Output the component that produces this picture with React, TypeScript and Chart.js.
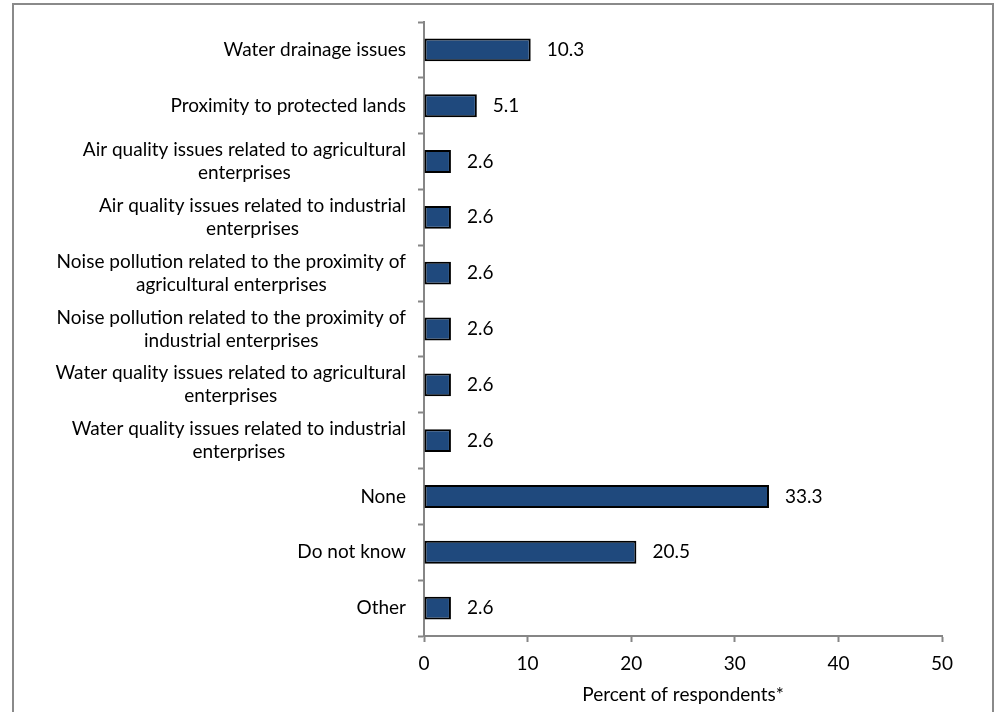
import React, { useEffect, useRef } from "react";
import { Chart, registerables } from "chart.js";

Chart.register(...registerables);

const categories: string[][] = [
  ["Water drainage issues"],
  ["Proximity to protected lands"],
  ["Air quality issues related to agricultural", "enterprises"],
  ["Air quality issues related to industrial", "enterprises"],
  ["Noise pollution related to the proximity of", "agricultural enterprises"],
  ["Noise pollution related to the proximity of", "industrial enterprises"],
  ["Water quality issues related to agricultural", "enterprises"],
  ["Water quality issues related to industrial", "enterprises"],
  ["None"],
  ["Do not know"],
  ["Other"],
];
const values: number[] = [10.3, 5.1, 2.6, 2.6, 2.6, 2.6, 2.6, 2.6, 33.3, 20.5, 2.6];
const valueLabels: string[] = ["10.3", "5.1", "2.6", "2.6", "2.6", "2.6", "2.6", "2.6", "33.3", "20.5", "2.6"];
const xTitle = "Percent of respondents*";

const FONT_FAMILY = "Lato, 'Noto Sans', sans-serif";
const FONT_SIZE = 19;
const AXIS_COLOR = "#868686";

export default function App() {
  const ref = useRef<HTMLCanvasElement | null>(null);

  useEffect(() => {
    const canvas = ref.current;
    if (!canvas) return;

    const labelPlugin = {
      id: "customLabels",
      afterDraw(chart: any) {
        const ctx = chart.ctx;
        const yScale = chart.scales.y;
        const xScale = chart.scales.x;
        ctx.save();
        ctx.font = `${FONT_SIZE}px ${FONT_FAMILY}`;
        ctx.fillStyle = "#000";
        ctx.textBaseline = "middle";
        const lineH = 23;
        categories.forEach((lines, i) => {
          const y = yScale.getPixelForValue(i);
          let maxW = 0;
          lines.forEach((l) => {
            maxW = Math.max(maxW, ctx.measureText(l).width);
          });
          const rightEdge = yScale.right - 18;
          const cx = rightEdge - maxW / 2;
          ctx.textAlign = "center";
          const startY = y - ((lines.length - 1) * lineH) / 2;
          lines.forEach((l, k) => {
            ctx.fillText(l, cx, startY + k * lineH);
          });
        });
        ctx.textAlign = "left";
        values.forEach((v, i) => {
          const x = xScale.getPixelForValue(v) + 16;
          const y = yScale.getPixelForValue(i);
          ctx.fillText(valueLabels[i], x, y);
        });
        ctx.restore();
      },
    };

    const chart = new Chart(canvas, {
      type: "bar",
      data: {
        labels: categories.map((c) => c.join(" ")),
        datasets: [
          {
            data: values,
            backgroundColor: "#1F497D",
            borderColor: "#000000",
            borderWidth: 2,
            borderSkipped: false,
            barPercentage: 0.41,
            categoryPercentage: 1,
          },
        ],
      },
      options: {
        indexAxis: "y",
        responsive: false,
        animation: false,
        events: [],
        layout: { padding: { top: 22, right: 57, left: 0, bottom: 0 } },
        plugins: {
          legend: { display: false },
          tooltip: { enabled: false },
          title: { display: false },
        },
        scales: {
          x: {
            min: 0,
            max: 50,
            ticks: {
              stepSize: 10,
              color: "#000",
              padding: 10,
              font: { family: FONT_FAMILY, size: FONT_SIZE },
            },
            grid: {
              drawOnChartArea: false,
              drawTicks: true,
              tickLength: 6,
              tickColor: AXIS_COLOR,
              tickWidth: 2,
            },
            border: { color: AXIS_COLOR, width: 2 },
            title: {
              display: true,
              text: xTitle,
              color: "#000",
              font: { family: FONT_FAMILY, size: FONT_SIZE },
              padding: { top: 0, bottom: 6 },
            },
            afterFit(scale: any) {
              scale.height = 76;
            },
          },
          y: {
            ticks: {
              callback: () => "",
              font: { family: FONT_FAMILY, size: FONT_SIZE },
            },
            grid: {
              drawOnChartArea: false,
              drawTicks: true,
              tickLength: 6,
              offset: true,
              tickColor: AXIS_COLOR,
              tickWidth: 2,
            },
            border: { color: AXIS_COLOR, width: 2 },
            afterFit(scale: any) {
              scale.width = 424;
            },
          },
        },
      },
      plugins: [labelPlugin],
    } as any);

    return () => chart.destroy();
  }, []);

  return (
    <div style={{ position: "fixed", left: 0, top: 0, width: 999, height: 712, background: "#fff", overflow: "hidden" }}>
      <div
        style={{
          position: "absolute",
          left: 12,
          top: 3,
          width: 982,
          height: 740,
          border: "2px solid #8a8a8a",
          boxSizing: "border-box",
        }}
      />
      <canvas ref={ref} width={999} height={712} style={{ position: "absolute", left: 0, top: 0 }} />
    </div>
  );
}
